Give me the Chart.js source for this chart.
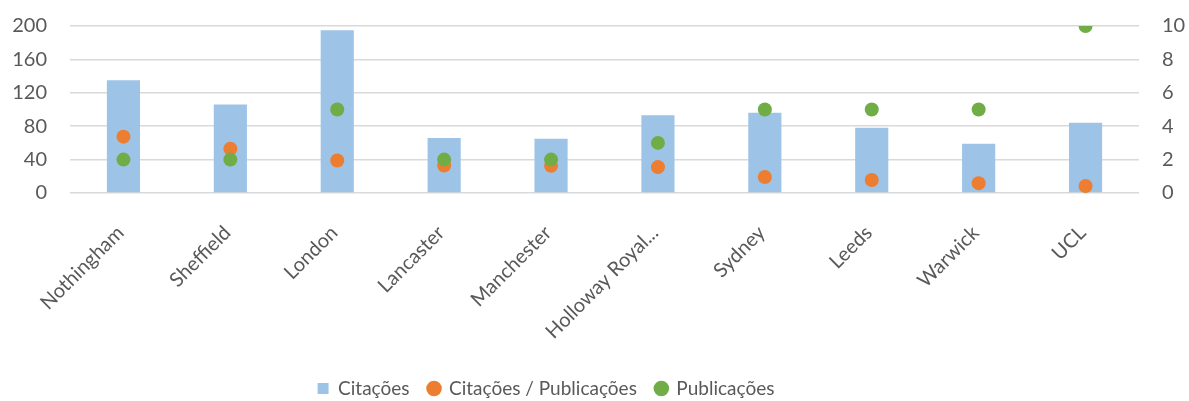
<!DOCTYPE html>
<html>
<head>
<meta charset="utf-8">
<script src="https://cdn.jsdelivr.net/npm/chart.js@4/dist/chart.umd.min.js"></script>
<style>
html,body{margin:0;padding:0;background:#fff;}
#wrap{width:1189px;height:401px;}
</style>
</head>
<body>
<div id="wrap"><canvas id="c" width="1189" height="401"></canvas></div>
<script>
const categories = ["Nothingham","Sheffield","London","Lancaster","Manchester","Holloway Royal...","Sydney","Leeds","Warwick","UCL"];
const citacoes = [135,106,195,66,65,93,96,78,59,84];
const citPorPub = [67.5,53,39,33,32.5,31,19.2,15.6,11.8,8.4];
const publicacoes = [2,2,5,2,2,3,5,5,5,10];
const leftTicks = [0,40,80,120,160,200];
const rightTicks = [0,2,4,6,8,10];

const FONT = "Lato, 'Open Sans', sans-serif";
const TXT = "#595959";

const legendPlace = {
  id:'legendPlace',
  afterLayout(chart){
    const l = chart.legend;
    if(!l) return;
    const h = l.bottom - l.top;
    l.left = 0; l.right = 1092;
    l.top = 360; l.bottom = l.top + h;
  }
};

function yFit(w){
  return (s)=>{ s.width = w; s.paddingTop = 0; s.paddingBottom = 0; };
}

new Chart(document.getElementById('c'), {
  data: {
    labels: categories,
    datasets: [
      {type:'bar', label:'Citações', data:citacoes, backgroundColor:'#9DC3E6', yAxisID:'y', order:3,
       barPercentage:0.31, categoryPercentage:1.0, pointStyle:'rect'},
      {type:'line', label:'Citações / Publicações', data:citPorPub, yAxisID:'y', order:2, showLine:false,
       pointRadius:7, pointHoverRadius:7, backgroundColor:'#ED7D31', borderColor:'#ED7D31', pointBorderWidth:0, pointStyle:'circle'},
      {type:'line', label:'Publicações', data:publicacoes, yAxisID:'y1', order:1, showLine:false,
       pointRadius:7, pointHoverRadius:7, backgroundColor:'#70AD47', borderColor:'#70AD47', pointBorderWidth:0, pointStyle:'circle'}
    ]
  },
  options: {
    responsive:false, animation:false,
    layout:{padding:{top:26,left:0,right:0,bottom:0}},
    plugins:{
      tooltip:{enabled:false},
      legend:{position:'bottom',
        labels:{usePointStyle:true, boxWidth:11, boxHeight:11, padding:19, color:TXT,
          font:{family:FONT,size:19},
          sort:(a,b)=>a.datasetIndex-b.datasetIndex}}
    },
    scales:{
      x:{grid:{display:false}, border:{display:false},
         ticks:{color:TXT, font:{family:FONT,size:20}, maxRotation:45, minRotation:45, autoSkip:false, padding:20, labelOffset:-3},
         afterFit:(s)=>{s.height=160;}},
      y:{position:'left', min:0, max:200,
         afterBuildTicks:(s)=>{s.ticks=leftTicks.map(v=>({value:v}));},
         grid:{color:'#d9d9d9', lineWidth:1.5, drawTicks:false}, border:{display:false},
         ticks:{color:TXT, font:{family:FONT,size:20}, padding:23},
         afterFit:yFit(70)},
      y1:{position:'right', min:0, max:10,
         afterBuildTicks:(s)=>{s.ticks=rightTicks.map(v=>({value:v}));},
         grid:{display:false, drawTicks:false}, border:{display:false},
         ticks:{color:TXT, font:{family:FONT,size:20}, padding:23},
         afterFit:yFit(50)}
    }
  },
  plugins:[legendPlace]
});
</script>
</body>
</html>
